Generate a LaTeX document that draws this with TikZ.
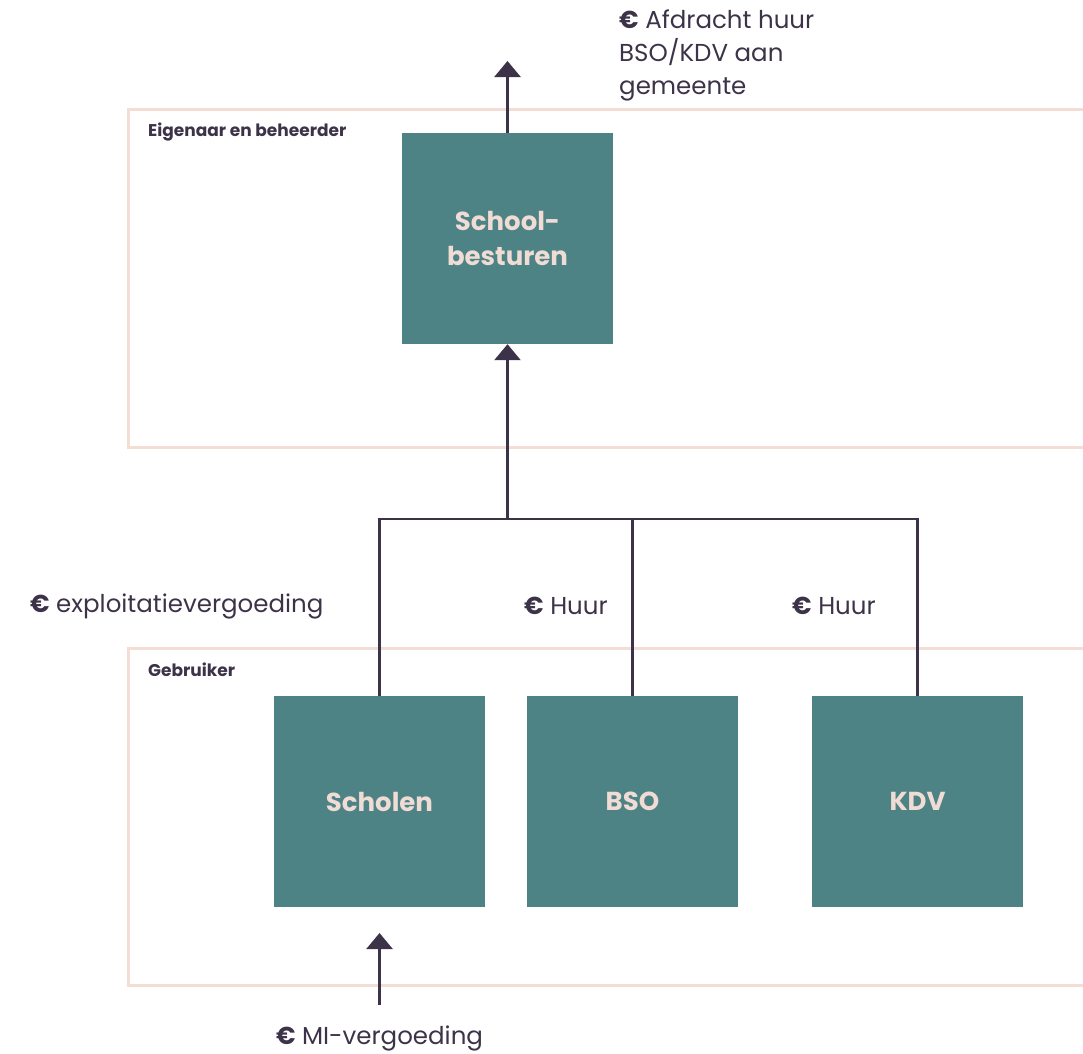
\documentclass[tikz,border=0pt]{standalone}
\usepackage{fontspec}
\setmainfont{Poppins}
\usetikzlibrary{arrows.meta}
\definecolor{teal}{HTML}{4E8385}
\definecolor{ink}{HTML}{3D3349}
\definecolor{frame}{HTML}{F3DDD4}
\definecolor{boxtxt}{HTML}{F0DCD4}
\begin{document}
\begin{tikzpicture}[x=1pt,y=-1pt,
  box/.style={fill=teal,draw=none,minimum width=211pt,minimum height=211pt,inner sep=0pt,
    text=boxtxt,font=\fontsize{26}{35}\selectfont\bfseries,align=center},
  lbl/.style={text=ink,font=\fontsize{24.5}{33}\selectfont,inner sep=0pt},
  grp/.style={text=ink,font=\fontsize{17}{20}\selectfont\bfseries,inner sep=0pt,anchor=west},
  flow/.style={draw=ink,line width=2.6pt},
  arr/.style={flow,-{Triangle[width=26pt,length=16pt]}}]
\useasboundingbox (0,0) rectangle (1083,1053);
% frames
\draw[frame,line width=3pt] (1090,109) -- (128,109) -- (128,447) -- (1090,447);
\draw[frame,line width=3pt] (1090,648) -- (128,648) -- (128,985) -- (1090,985);
\node[grp] (g1) at (148,132) {Eigenaar en beheerder};
\node[grp] (g2) at (148,670) {Gebruiker};
% boxes
\node[box] (sb) at (507.5,238.5) {School-\\besturen};
\node[box] (sch) at (379.5,801.5) {Scholen};
\node[box] (bso) at (632.5,801.5) {BSO};
\node[box] (kdv) at (917.5,801.5) {KDV};
% connectors
\coordinate (topend) at (507.5,61);
\draw[arr] (sb.north) -- (topend);
\coordinate (j) at (507.5,519);
\draw[arr] (j) -- (sb.south);
\draw[flow] (sch.north) |- (j) -| (kdv.north);
\draw[flow] (bso.north) -- (bso.north |- j);
\coordinate (mi) at (379.5,1005);
\draw[arr] (mi) -- (sch.south |- 0,933);
% labels
\node[lbl,anchor=north west,align=left] (afd) at (619,10) {\textbf{€} Afdracht huur\\BSO/KDV aan\\gemeente};
\node[lbl,anchor=west] (exp) at (30,606) {\textbf{€} exploitatievergoeding};
\node[lbl,anchor=west] (h1) at (524,606) {\textbf{€} Huur};
\node[lbl,anchor=west] (h2) at (792,606) {\textbf{€} Huur};
\node[lbl] (miv) at (379.5,1038) {\textbf{€} MI-vergoeding};
\end{tikzpicture}
\end{document}
